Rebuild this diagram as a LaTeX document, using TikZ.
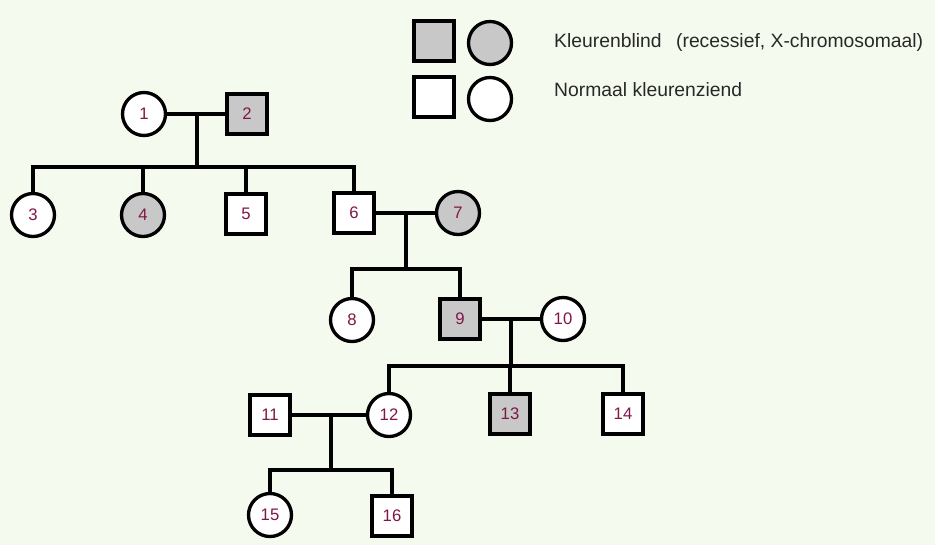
\documentclass[tikz,border=0pt]{standalone}
\usepackage{fontspec}
\setmainfont{Liberation Sans}
\usepackage{xcolor}
\usepackage{tikz}
\definecolor{achtergrond}{RGB}{244,251,238}
\definecolor{nummer}{RGB}{128,22,72}
\definecolor{kleurenblind}{RGB}{200,200,200}
\definecolor{tekst}{RGB}{40,40,40}

\tikzset{
	persoon/.style={draw=black, line width=1.9pt, fill=white, text=nummer, inner sep=0pt, font=\fontsize{9.5}{11}\selectfont},
	man/.style={persoon, rectangle, minimum size=0.8cm},
	vrouw/.style={persoon, circle, minimum size=0.86cm},
	blind/.style={fill=kleurenblind},
	lijn/.style={line width=1.9pt, line cap=rect},
	legenda/.style={anchor=west, text=tekst, font=\fontsize{11}{13}\selectfont}
}

\begin{document}
\begin{tikzpicture}[x=0.02cm, y=-0.02cm]
		\fill[achtergrond] (0,0) rectangle (935,545);
		
		% legenda
		\node[man, blind] (lm1) at (434,41) {};
		\node[vrouw, blind] (lv1) at (490,43) {};
		\node[man] (lm2) at (434,97) {};
		\node[vrouw] (lv2) at (490,99) {};
		\node[legenda] (kb) at (548,42) {Kleurenblind\hspace{0.75em}(recessief, X-chromosomaal)};
		\node[legenda] (nk) at (548,90) {Normaal kleurenziend};
		
		% generatie I
		\node[vrouw] (p1) at (144,114) {1};
		\node[man, blind] (p2) at (247,114) {2};
		\coordinate (m12) at (197,114);
		\coordinate (s12) at (197,167);
		
		% generatie II
		\node[vrouw] (p3) at (33,215) {3};
		\node[vrouw, blind] (p4) at (143,215) {4};
		\node[man] (p5) at (246,214) {5};
		\node[man] (p6) at (354,213) {6};
		\node[vrouw, blind] (p7) at (458,213) {7};
		\coordinate (m67) at (406,213);
		\coordinate (s67) at (406,269);
		
		% generatie III
		\node[vrouw] (p8) at (352,320) {8};
		\node[man, blind] (p9) at (460,319) {9};
		\node[vrouw] (p10) at (563,319) {10};
		\coordinate (m910) at (511,319);
		\coordinate (s910) at (511,366);
		
		% generatie IV
		\node[man] (p11) at (270,415) {11};
		\node[vrouw] (p12) at (389,415) {12};
		\node[man, blind] (p13) at (510,414) {13};
		\node[man] (p14) at (623,414) {14};
		\coordinate (m1112) at (331,415);
		\coordinate (s1112) at (331,470);
		
		% generatie V
		\node[vrouw] (p15) at (270,515) {15};
		\node[man] (p16) at (392,516) {16};
		
		% lijnen
		\draw[lijn] (p1) -- (p2);
		\draw[lijn] (m12) -- (s12);
		\draw[lijn] (p3.north) -- (p3.north |- s12) -- (p6.north |- s12) -- (p6.north);
		\draw[lijn] (p4.north) -- (p4.north |- s12);
		\draw[lijn] (p5.north) -- (p5.north |- s12);
		
		\draw[lijn] (p6) -- (p7);
		\draw[lijn] (m67) -- (s67);
		\draw[lijn] (p8.north) -- (p8.north |- s67) -- (p9.north |- s67) -- (p9.north);
		
		\draw[lijn] (p9) -- (p10);
		\draw[lijn] (m910) -- (s910);
		\draw[lijn] (p12.north) -- (p12.north |- s910) -- (p14.north |- s910) -- (p14.north);
		\draw[lijn] (p13.north) -- (p13.north |- s910);
		
		\draw[lijn] (p11) -- (p12);
		\draw[lijn] (m1112) -- (s1112);
		\draw[lijn] (p15.north) -- (p15.north |- s1112) -- (p16.north |- s1112) -- (p16.north);
	\end{tikzpicture}
\end{document}
